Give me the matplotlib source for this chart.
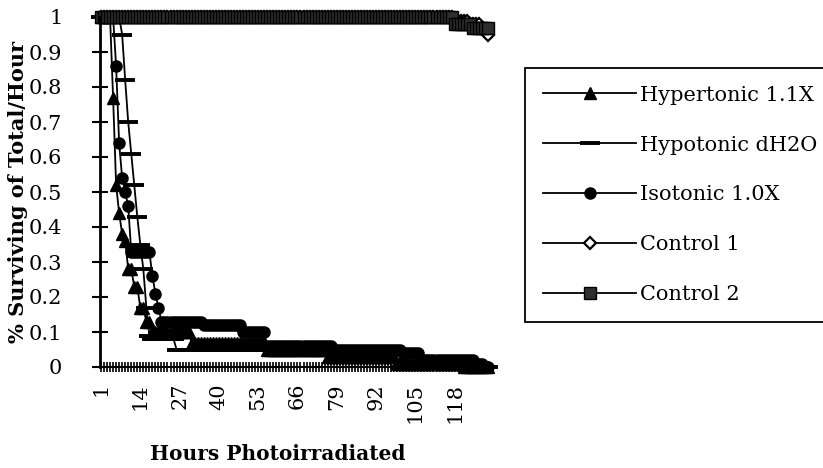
import matplotlib
matplotlib.use("Agg")
import matplotlib.pyplot as plt

# hours 1..129 (category axis)
hours = list(range(1, 130))
tick_hours = [1, 14, 27, 40, 53, 66, 79, 92, 105, 118]

hypertonic = [
    1.0, 1.0, 1.0, 1.0, 0.77, 0.52, 0.44, 0.38, 0.36, 0.28,
    0.28, 0.23, 0.23, 0.17, 0.17, 0.13, 0.13, 0.10, 0.10, 0.10,
    0.10, 0.10, 0.10, 0.10, 0.10, 0.10, 0.10, 0.10, 0.10, 0.10,
    0.07, 0.07, 0.07, 0.07, 0.07, 0.07, 0.07, 0.07, 0.07, 0.07,
    0.07, 0.07, 0.07, 0.07, 0.07, 0.07, 0.07, 0.07, 0.07, 0.07,
    0.07, 0.07, 0.07, 0.07, 0.07, 0.05, 0.05, 0.05, 0.05, 0.05,
    0.05, 0.05, 0.05, 0.05, 0.05, 0.05, 0.05, 0.05, 0.05, 0.05,
    0.05, 0.05, 0.05, 0.05, 0.05, 0.03, 0.03, 0.03, 0.03, 0.03,
    0.03, 0.03, 0.03, 0.03, 0.03, 0.03, 0.03, 0.03, 0.03, 0.03,
    0.03, 0.03, 0.03, 0.03, 0.03, 0.03, 0.03, 0.03, 0.01, 0.01,
    0.01, 0.01, 0.01, 0.01, 0.01, 0.01, 0.01, 0.01, 0.01, 0.01,
    0.01, 0.01, 0.01, 0.01, 0.01, 0.01, 0.01, 0.01, 0.01, 0.01,
    0.0, 0.0, 0.0, 0.0, 0.0, 0.0, 0.0, 0.0, 0.0,
]

hypotonic = [
    1.0, 1.0, 1.0, 1.0, 1.0, 1.0, 1.0, 0.95, 0.82, 0.70,
    0.61, 0.52, 0.43, 0.35, 0.28, 0.17, 0.09, 0.08, 0.08, 0.08,
    0.08, 0.08, 0.08, 0.08, 0.08, 0.05, 0.05, 0.05, 0.05, 0.05,
    0.05, 0.05, 0.05, 0.05, 0.05, 0.05, 0.05, 0.05, 0.05, 0.05,
    0.05, 0.05, 0.05, 0.05, 0.05, 0.05, 0.05, 0.05, 0.05, 0.05,
    0.05, 0.05, 0.05, 0.05, 0.05, 0.05, 0.05, 0.05, 0.05, 0.05,
    0.04, 0.04, 0.04, 0.04, 0.04, 0.04, 0.04, 0.04, 0.04, 0.04,
    0.04, 0.04, 0.04, 0.04, 0.04, 0.04, 0.04, 0.04, 0.04, 0.04,
    0.04, 0.04, 0.04, 0.04, 0.04, 0.04, 0.04, 0.04, 0.04, 0.04,
    0.04, 0.04, 0.04, 0.04, 0.04, 0.04, 0.04, 0.04, 0.02, 0.0,
    0.0, 0.0, 0.0, 0.0, 0.0, 0.0, 0.0, 0.0, 0.0, 0.0,
    0.0, 0.0, 0.0, 0.0, 0.0, 0.0, 0.0, 0.0, 0.0, 0.0,
    0.0, 0.0, 0.0, 0.0, 0.0, 0.0, 0.0, 0.0, 0.0,
]

isotonic = [
    1.0, 1.0, 1.0, 1.0, 1.0, 0.86, 0.64, 0.54, 0.50, 0.46,
    0.33, 0.33, 0.33, 0.33, 0.33, 0.33, 0.33, 0.26, 0.21, 0.17,
    0.13, 0.13, 0.13, 0.13, 0.13, 0.13, 0.13, 0.13, 0.13, 0.13,
    0.13, 0.13, 0.13, 0.13, 0.12, 0.12, 0.12, 0.12, 0.12, 0.12,
    0.12, 0.12, 0.12, 0.12, 0.12, 0.12, 0.12, 0.10, 0.10, 0.10,
    0.10, 0.10, 0.10, 0.10, 0.10, 0.06, 0.06, 0.06, 0.06, 0.06,
    0.06, 0.06, 0.06, 0.06, 0.06, 0.06, 0.06, 0.06, 0.06, 0.06,
    0.06, 0.06, 0.06, 0.06, 0.06, 0.06, 0.06, 0.05, 0.05, 0.05,
    0.05, 0.05, 0.05, 0.05, 0.05, 0.05, 0.05, 0.05, 0.05, 0.05,
    0.05, 0.05, 0.05, 0.05, 0.05, 0.05, 0.05, 0.05, 0.05, 0.05,
    0.04, 0.04, 0.04, 0.04, 0.04, 0.04, 0.02, 0.02, 0.02, 0.02,
    0.02, 0.02, 0.02, 0.02, 0.02, 0.02, 0.02, 0.02, 0.02, 0.02,
    0.02, 0.02, 0.02, 0.02, 0.01, 0.01, 0.01, 0.0, 0.0,
]

control1 = [1.0] * 117 + [0.99, 0.99, 0.99, 0.99, 0.99, 0.98, 0.98, 0.98, 0.98, 0.97, 0.96, 0.95]
control2 = [1.0] * 117 + [0.98, 0.98, 0.98, 0.98, 0.98, 0.98, 0.97, 0.97, 0.97, 0.97, 0.97, 0.97]

labels = ["Hypertonic 1.1X", "Hypotonic dH2O", "Isotonic 1.0X", "Control 1", "Control 2"]

plt.rcParams["font.family"] = "DejaVu Serif"

fig = plt.figure(figsize=(8.23, 4.68), dpi=100)
ax = fig.add_axes([100 / 823, 1 - 367 / 468, 390 / 823, 350 / 468])

ax.plot(hours, hypertonic, color="black", lw=1.3, marker="^", ms=9,
        mfc="black", mec="black", clip_on=False, label=labels[0])
ax.plot(hours, hypotonic, color="black", lw=1.3, marker="_", ms=14, mew=2.8,
        mec="black", clip_on=False, label=labels[1])
ax.plot(hours, isotonic, color="black", lw=1.3, marker="o", ms=8,
        mfc="black", mec="black", clip_on=False, label=labels[2])
ax.plot(hours, control1, color="black", lw=1.3, marker="D", ms=6.5,
        mfc="white", mec="black", mew=1.6, clip_on=False, label=labels[3])
ax.plot(hours, control2, color="black", lw=1.3, marker="s", ms=8.5,
        mfc="#2e2e2e", mec="black", clip_on=False, label=labels[4])

ax.set_xlim(0.67, 129.7)
ax.set_ylim(0, 1)

ax.set_xticks(hours)
ax.set_xticklabels([str(h) if h in tick_hours else "" for h in hours], rotation=90)
ax.tick_params(axis="x", direction="inout", length=7, width=1.2, labelsize=15, pad=8)

yt = [i / 10 for i in range(11)]
ax.set_yticks(yt)
ax.set_yticklabels(["0"] + [f"{v:.1f}" for v in yt[1:-1]] + ["1"])
ax.tick_params(axis="y", direction="inout", length=12, width=1.5, labelsize=15, pad=21)

for s in ["top", "right"]:
    ax.spines[s].set_visible(False)
ax.spines["left"].set_linewidth(2)
ax.spines["bottom"].set_linewidth(1.5)

ax.set_ylabel("% Surviving of Total/Hour", fontsize=15, fontweight="bold")
ax.yaxis.set_label_coords(-0.185, 0.5)
ax.set_xlabel("Hours Photoirradiated", fontsize=14.5, fontweight="bold")
ax.xaxis.set_label_coords(0.456, -0.22)

leg = fig.legend(loc="upper left", bbox_to_anchor=(525 / 823, 1 - 68 / 468),
                 numpoints=1, fontsize=15, handlelength=4.5, handletextpad=0.15,
                 labelspacing=1.48, borderpad=0.85, borderaxespad=0, fancybox=False,
                 edgecolor="black", framealpha=1)
leg.get_frame().set_linewidth(1.3)

fig.savefig("out.png", dpi=100)
